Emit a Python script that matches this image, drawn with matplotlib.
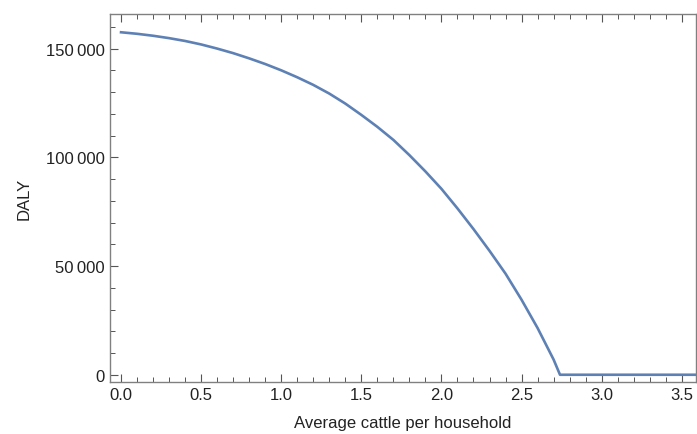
import matplotlib.pyplot as plt
from matplotlib.ticker import MultipleLocator, FuncFormatter

plt.rcParams['font.family'] = ['Liberation Sans', 'DejaVu Sans']

# values
cattle = [0.0, 0.1, 0.2, 0.3, 0.4, 0.5, 0.6, 0.7, 0.8, 0.9,
          1.0, 1.1, 1.2, 1.3, 1.4, 1.5, 1.6, 1.7, 1.8, 1.9,
          2.0, 2.1, 2.2, 2.3, 2.4, 2.5, 2.6, 2.7, 2.74, 3.6]
daly = [157500, 156800, 155900, 154800, 153500, 151900, 150000, 147900, 145500, 142900,
        140000, 136800, 133300, 129300, 124700, 119500, 114000, 108000, 101000, 93500,
        85500, 76500, 67000, 57000, 46500, 34500, 21500, 7000, 0, 0]

fig = plt.figure(figsize=(6.97, 4.35), dpi=100)
ax = fig.add_axes([0.1578, 0.1202, 0.841, 0.8453])

ax.plot(cattle, daly, color='#5E81B5', linewidth=1.9)

ax.set_xlim(-0.069, 3.59)
ax.set_ylim(-3200, 165900)

ax.xaxis.set_major_locator(MultipleLocator(0.5))
ax.xaxis.set_minor_locator(MultipleLocator(0.1))
ax.yaxis.set_major_locator(MultipleLocator(50000))
ax.yaxis.set_minor_locator(MultipleLocator(10000))
ax.xaxis.set_major_formatter(FuncFormatter(lambda v, p: f'{v:.1f}'))
ax.yaxis.set_major_formatter(FuncFormatter(lambda v, p: f'{int(v):,}'.replace(',', '\u2009')))

ax.tick_params(which='both', direction='in', top=True, right=False, color='#555555',
               labelsize=12, labelcolor='#222222')
ax.tick_params(which='major', length=6, width=0.8, pad=4)
ax.tick_params(which='minor', length=3.5, width=0.7)
for s in ax.spines.values():
    s.set_color('#808080')
    s.set_linewidth(1.0)

ax.set_xlabel('Average cattle per household', fontsize=12, color='#222222', labelpad=9.5)
ax.set_ylabel('DALY', fontsize=12, color='#222222', labelpad=10)

plt.savefig('out.png', dpi=100)
